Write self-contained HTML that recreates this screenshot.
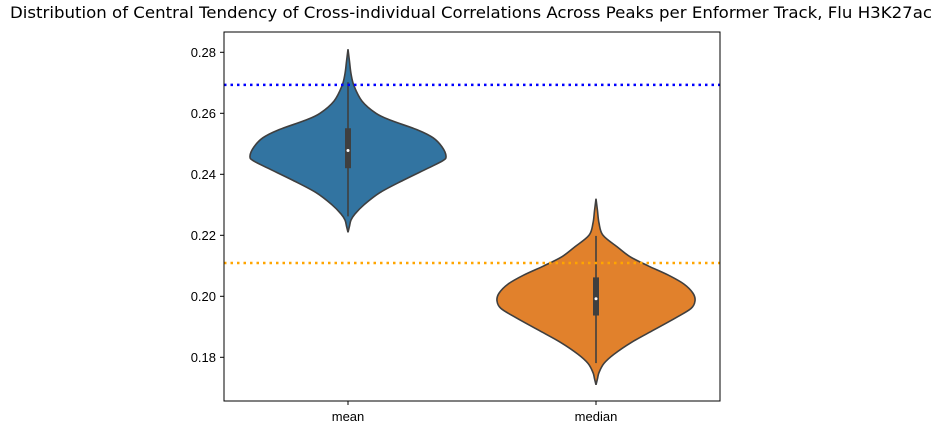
<!DOCTYPE html>
<html><head><meta charset="utf-8"><style>
body{margin:0;background:#fff;font-family:"Liberation Sans","DejaVu Sans",sans-serif}
</style></head><body>
<svg id="chart" width="943" height="435" xmlns="http://www.w3.org/2000/svg">
<text x="471" y="18" text-anchor="middle" font-size="16" textLength="922" lengthAdjust="spacingAndGlyphs" font-family="DejaVu Sans, Liberation Sans, sans-serif">Distribution of Central Tendency of Cross-individual Correlations Across Peaks per Enformer Track, Flu H3K27ac</text>
<g id="plot"></g>
</svg>
<script>
const categories = ["mean","median"];
const colors = ["#3274a1","#e1812c"];
const yTicks = [0.18,0.20,0.22,0.24,0.26,0.28];
const meanProfileValues = [0.281,0.277,0.273,0.269,0.264,0.260,0.2578,0.2545,0.252,0.249,0.246,0.2445,0.242,0.238,0.234,0.230,0.227,0.225,0.223,0.221];
const meanProfileDensity = [0,1.5,3,6,14,28,42,70,85,94,98,95,80,55,32,16,7,3,1.5,0];
const medianProfileValues = [0.232,0.228,0.224,0.220,0.216,0.213,0.210,0.207,0.204,0.201,0.1985,0.196,0.193,0.189,0.185,0.181,0.178,0.175,0.173,0.171];
const medianProfileDensity = [0,1.5,3,7,22,34,52,72,88,97,99,95,80,58,36,18,8,3,1.5,0];
const quartiles = [[0.2420,0.2551],[0.1937,0.2062]];
const medians = [0.2478,0.1992];
const whiskers = [[0.2262,0.2702],[0.1781,0.2198]];
const refLines = [0.2693,0.2109];
const refColors = ["#0000ff","#ffa500"];

const L=224,R=720,T=32,B=401;
const y = v => 357.3-(v-0.18)*3050;
const x = i => 348 + i*248;
const w = d => d;
const NS="http://www.w3.org/2000/svg";
const g=document.getElementById('plot');
function el(t,a,p){const e=document.createElementNS(NS,t);for(const k in a)e.setAttribute(k,a[k]);(p||g).appendChild(e);return e;}
function spline(pts){let d=`M${pts[0][0]},${pts[0][1]}`;for(let i=0;i<pts.length-1;i++){const p0=pts[Math.max(0,i-1)],p1=pts[i],p2=pts[i+1],p3=pts[Math.min(pts.length-1,i+2)];
const c1=[p1[0]+(p2[0]-p0[0])/6,p1[1]+(p2[1]-p0[1])/6],c2=[p2[0]-(p3[0]-p1[0])/6,p2[1]-(p3[1]-p1[1])/6];d+=` C${c1[0]},${c1[1]} ${c2[0]},${c2[1]} ${p2[0]},${p2[1]}`;}return d;}

yTicks.forEach(t=>{
  const tk=el('line',{x1:L-4,x2:L,y1:y(t),y2:y(t),stroke:'#000','stroke-width':1});
  
  
  const lb=el('text',{x:L-8,y:y(t)+4.5,'text-anchor':'end','font-size':13});
  lb.textContent=t.toFixed(2);
  
  
});
const profV=[meanProfileValues,medianProfileValues], profD=[meanProfileDensity,medianProfileDensity];
categories.forEach((c,i)=>{
  const cx=x(i);
  const right=profV[i].map((v,j)=>[cx+w(profD[i][j]),y(v)]);
  const left=profV[i].map((v,j)=>[cx-w(profD[i][j]),y(v)]).reverse();
  const d=spline(right)+' '+spline(left).replace('M','L')+' Z';
  const vp=el('path',{d,fill:colors[i],stroke:'#3f3f3f','stroke-width':1.6});
  
  
  const wl=el('line',{x1:cx,x2:cx,y1:y(whiskers[i][0]),y2:y(whiskers[i][1]),stroke:'#3f3f3f','stroke-width':1.6});
  
  
  const bx=el('rect',{x:cx-3,width:6,y:y(quartiles[i][1]),height:y(quartiles[i][0])-y(quartiles[i][1]),fill:'#3f3f3f'});
  
  
  const md=el('circle',{cx,cy:y(medians[i]),r:1.5,fill:'#fff'});
  
  
  const tk=el('line',{x1:cx,x2:cx,y1:B,y2:B+4,stroke:'#000','stroke-width':1});
  
  
  const lb=el('text',{x:cx,y:B+20,'text-anchor':'middle','font-size':13});
  lb.textContent=c;
  
  
});
refLines.forEach((v,i)=>{
  const rl=el('line',{x1:L,x2:R,y1:y(v),y2:y(v),stroke:refColors[i],'stroke-width':2.5,'stroke-dasharray':'2.5 4'});
  
  
});
const fr=el('rect',{x:L,y:T,width:R-L,height:B-T,fill:'none',stroke:'#000','stroke-width':1});


</script>
</body></html>
